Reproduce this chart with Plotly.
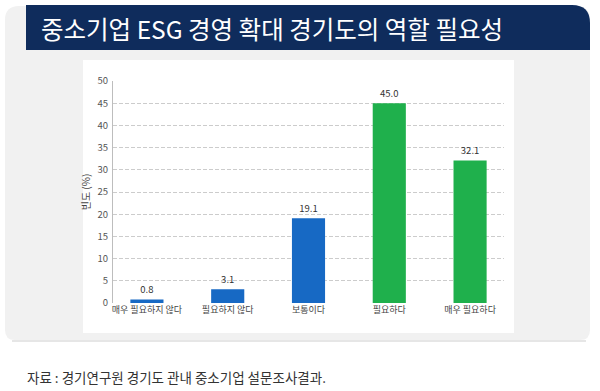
import plotly.graph_objects as go

categories = ["매우 필요하지 않다", "필요하지 않다", "보통이다", "필요하다", "매우 필요하다"]
values = [0.8, 3.1, 19.1, 45.0, 32.1]
bar_colors = ["#1769c4", "#1769c4", "#1769c4", "#1fb04c", "#1fb04c"]
y_ticks = [0, 5, 10, 15, 20, 25, 30, 35, 40, 45, 50]
title_text = "중소기업 ESG 경영 확대 경기도의 역할 필요성"
source_text = "자료 : 경기연구원 경기도 관내 중소기업 설문조사결과."

W, H = 600, 391
L, R, T, B = 113, 96, 81, 88
PW = W - L - R
PH = H - T - B

def px(x):
    return (x - L) / PW

def py(y):
    return (H - B - y) / PH

def rounded_path(x0, y0, x1, y1, rtl=0, rtr=0, rbr=0, rbl=0):
    X0, X1 = px(x0), px(x1)
    Y0, Y1 = py(y0), py(y1)
    def dx(r):
        return r / PW
    def dy(r):
        return r / PH
    p = f"M {X0+dx(rtl)},{Y0} L {X1-dx(rtr)},{Y0} "
    if rtr:
        p += f"Q {X1},{Y0} {X1},{Y0-dy(rtr)} "
    p += f"L {X1},{Y1+dy(rbr)} "
    if rbr:
        p += f"Q {X1},{Y1} {X1-dx(rbr)},{Y1} "
    p += f"L {X0+dx(rbl)},{Y1} "
    if rbl:
        p += f"Q {X0},{Y1} {X0},{Y1+dy(rbl)} "
    p += f"L {X0},{Y0-dy(rtl)} "
    if rtl:
        p += f"Q {X0},{Y0} {X0+dx(rtl)},{Y0} "
    p += "Z"
    return p

fig = go.Figure()
fig.add_trace(go.Bar(
    x=categories, y=values,
    marker=dict(color=bar_colors, line=dict(width=0)),
    width=0.41,
    text=[f"{v:.1f}" for v in values],
    textposition="outside",
    textfont=dict(size=9.5, color="#333333", family="Noto Sans CJK KR"),
    cliponaxis=False,
))

shapes = [
    dict(type="path", xref="paper", yref="paper", layer="below",
         path=rounded_path(5, 6, 590, 340, 14, 14, 10, 10),
         fillcolor="#f1f1f1", line=dict(width=0)),
    dict(type="rect", xref="paper", yref="paper", layer="below",
         x0=px(12), x1=px(586), y0=py(340), y1=py(342),
         fillcolor="#e6e6e6", line=dict(width=0)),
    dict(type="path", xref="paper", yref="paper", layer="below",
         path=rounded_path(26, 5, 590, 50, 0, 18, 0, 0),
         fillcolor="#0f2c5c", line=dict(width=0)),
    dict(type="rect", xref="paper", yref="paper", layer="below",
         x0=px(83), x1=px(514), y0=py(60), y1=py(333),
         fillcolor="#ffffff", line=dict(width=0)),
]

annotations = [
    dict(text=title_text, xref="paper", yref="paper", x=px(39), y=py(28),
         xanchor="left", yanchor="middle", showarrow=False,
         font=dict(size=24.5, color="#ffffff", family="Noto Sans CJK KR")),
    dict(text=source_text, xref="paper", yref="paper", x=px(25), y=py(377),
         xanchor="left", yanchor="middle", showarrow=False,
         font=dict(size=13.5, color="#333333", family="Noto Sans CJK KR")),
]

fig.update_layout(
    width=W, height=H,
    margin=dict(l=L, r=R, t=T, b=B, pad=0),
    paper_bgcolor="#ffffff",
    plot_bgcolor="rgba(0,0,0,0)",
    showlegend=False,
    bargap=0.59,
    shapes=shapes,
    annotations=annotations,
    font=dict(family="Noto Sans CJK KR", color="#444444"),
    xaxis=dict(
        range=[-0.42, 4.42], showgrid=False, zeroline=False,
        showline=False, ticks="",
        tickfont=dict(size=9, color="#444444"),
    ),
    yaxis=dict(
        range=[0, 50], tickvals=y_ticks, showgrid=True,
        gridcolor="#cccccc", griddash="4px,2px", gridwidth=1,
        zeroline=False, showline=True, linecolor="#bdbdbd", linewidth=1,
        ticks="", ticklabelstandoff=2,
        tickfont=dict(size=9.5, color="#555555"),
        title=dict(text="빈도 (%)", font=dict(size=10, color="#444444"), standoff=5),
    ),
)

fig.write_html("out.html", config={"displayModeBar": False},
               post_script="document.body.style.margin='0';document.body.style.overflow='hidden';")
